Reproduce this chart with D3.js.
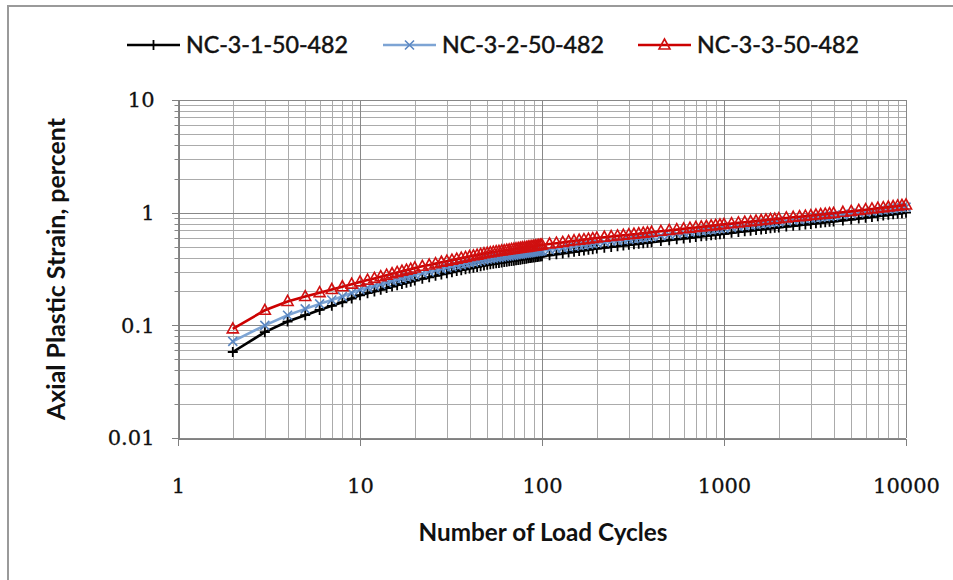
<!DOCTYPE html>
<html>
<head>
<meta charset="utf-8">
<script src="https://cdn.jsdelivr.net/npm/d3@7"></script>
<style>
  body { margin: 0; background: #fff; }
  svg { display: block; }
</style>
</head>
<body>
<div id="chart"></div>
<script>
// load cycles at which strain was recorded
const cycles = [
  2, 3, 4, 5, 6, 7, 8, 9, 10, 11, 12, 13, 14, 15, 16, 17, 18, 19, 20,
  22, 24, 26, 28, 30, 32, 34, 36, 38, 40, 42, 44, 46, 48, 50, 52, 54, 56, 58, 60,
  62, 64, 66, 68, 70, 72, 74, 76, 78, 80, 82, 84, 86, 88, 90, 92, 94, 96, 98, 100,
  110, 120, 130, 140, 150, 160, 170, 180, 190, 200,
  220, 240, 260, 280, 300, 320, 340, 360, 380, 400,
  450, 500, 550, 600, 650, 700, 750, 800, 850, 900, 950, 1000,
  1100, 1200, 1300, 1400, 1500, 1600, 1700, 1800, 1900, 2000,
  2200, 2400, 2600, 2800, 3000, 3200, 3400, 3600, 3800, 4000,
  4500, 5000, 5500, 6000, 6500, 7000, 7500, 8000, 8500, 9000, 9500, 10000
];

const strainNC1 = [
  0.058, 0.087, 0.108, 0.123, 0.137, 0.149, 0.160, 0.173, 0.185, 0.193, 0.200, 0.207, 0.214, 0.221, 0.227, 0.233, 0.239, 0.244, 0.250,
  0.259, 0.267, 0.275, 0.283, 0.290, 0.296, 0.303, 0.309, 0.314, 0.320, 0.325, 0.330, 0.335, 0.340, 0.345, 0.348, 0.352, 0.355, 0.358, 0.361,
  0.364, 0.367, 0.370, 0.373, 0.375, 0.378, 0.381, 0.383, 0.386, 0.388, 0.390, 0.393, 0.395, 0.397, 0.400, 0.402, 0.404, 0.406, 0.408, 0.410,
  0.419, 0.427, 0.435, 0.443, 0.450, 0.456, 0.462, 0.469, 0.474, 0.480,
  0.489, 0.497, 0.504, 0.511, 0.518, 0.524, 0.530, 0.536, 0.541, 0.547,
  0.559, 0.570, 0.580, 0.590, 0.599, 0.608, 0.616, 0.623, 0.630, 0.637, 0.644, 0.650,
  0.662, 0.673, 0.683, 0.692, 0.701, 0.710, 0.718, 0.726, 0.733, 0.740,
  0.753, 0.764, 0.775, 0.785, 0.795, 0.804, 0.813, 0.821, 0.829, 0.836,
  0.854, 0.870, 0.887, 0.902, 0.917, 0.931, 0.944, 0.956, 0.967, 0.979, 0.989, 1.000
];

const strainNC2 = [
  0.072, 0.100, 0.123, 0.140, 0.155, 0.168, 0.180, 0.194, 0.207, 0.216, 0.224, 0.232, 0.240, 0.248, 0.254, 0.261, 0.268, 0.273, 0.280,
  0.290, 0.299, 0.308, 0.317, 0.325, 0.332, 0.339, 0.346, 0.352, 0.358, 0.364, 0.370, 0.375, 0.381, 0.386, 0.390, 0.394, 0.398, 0.401, 0.404,
  0.408, 0.411, 0.414, 0.418, 0.420, 0.423, 0.427, 0.429, 0.432, 0.435, 0.437, 0.440, 0.442, 0.445, 0.448, 0.450, 0.452, 0.455, 0.457, 0.459,
  0.469, 0.478, 0.487, 0.496, 0.504, 0.511, 0.517, 0.525, 0.531, 0.538,
  0.548, 0.557, 0.564, 0.572, 0.580, 0.587, 0.594, 0.600, 0.606, 0.613,
  0.626, 0.638, 0.650, 0.661, 0.671, 0.681, 0.690, 0.698, 0.706, 0.713, 0.721, 0.728,
  0.741, 0.754, 0.765, 0.775, 0.785, 0.795, 0.804, 0.813, 0.821, 0.829,
  0.843, 0.856, 0.868, 0.879, 0.890, 0.900, 0.911, 0.920, 0.928, 0.936,
  0.956, 0.974, 0.993, 1.010, 1.027, 1.043, 1.057, 1.071, 1.083, 1.096, 1.108, 1.120
];

const strainNC3 = [
  0.093, 0.136, 0.163, 0.180, 0.195, 0.208, 0.220, 0.232, 0.243, 0.252, 0.261, 0.270, 0.279, 0.287, 0.295, 0.302, 0.309, 0.315, 0.323,
  0.334, 0.343, 0.353, 0.363, 0.371, 0.379, 0.387, 0.395, 0.401, 0.408, 0.414, 0.420, 0.426, 0.432, 0.438, 0.442, 0.447, 0.450, 0.454, 0.458,
  0.461, 0.465, 0.468, 0.472, 0.474, 0.478, 0.482, 0.484, 0.488, 0.490, 0.492, 0.496, 0.498, 0.501, 0.504, 0.507, 0.509, 0.512, 0.514, 0.517,
  0.527, 0.536, 0.545, 0.555, 0.563, 0.569, 0.576, 0.583, 0.589, 0.595,
  0.605, 0.614, 0.622, 0.630, 0.637, 0.644, 0.651, 0.658, 0.663, 0.670,
  0.683, 0.695, 0.707, 0.719, 0.729, 0.739, 0.748, 0.756, 0.764, 0.772, 0.780, 0.787,
  0.800, 0.812, 0.823, 0.832, 0.843, 0.852, 0.861, 0.870, 0.877, 0.884,
  0.898, 0.910, 0.921, 0.932, 0.943, 0.953, 0.963, 0.971, 0.980, 0.987,
  1.008, 1.027, 1.046, 1.063, 1.079, 1.095, 1.109, 1.122, 1.134, 1.147, 1.158, 1.170
];

const seriesNames = ['NC-3-1-50-482', 'NC-3-2-50-482', 'NC-3-3-50-482'];
const xTickValues = [1, 10, 100, 1000, 10000];
const yTickValues = [0.01, 0.1, 1, 10];
const yTickLabels = ['0.01', '0.1', '1', '10'];

const width = 953;
const height = 580;
const plot = {left: 178, right: 906, top: 100, bottom: 438};

const svg = d3.select('#chart')
  .append('svg')
  .attr('width', width)
  .attr('height', height);

// outer chart frame (only top and left edges are inside the picture)
svg.append('path')
  .attr('d', `M8,${height}V6H${width}`)
  .attr('fill', 'none')
  .attr('stroke', '#9a9a9a')
  .attr('stroke-width', 2);

const x = d3.scaleLog().domain([1, 10000]).range([plot.left, plot.right]);
const y = d3.scaleLog().domain([0.01, 10]).range([plot.bottom, plot.top]);

// minor + major grid
const xMinor = x.ticks().filter(v => !xTickValues.includes(v));
const yMinor = y.ticks().filter(v => !yTickValues.some(t => Math.abs(t - v) / t < 1e-6));

const grid = svg.append('g').attr('shape-rendering', 'crispEdges');
grid.selectAll('.xminor')
  .data(xMinor)
  .join('line')
  .attr('x1', d => Math.round(x(d)) + 0.5)
  .attr('x2', d => Math.round(x(d)) + 0.5)
  .attr('y1', plot.top)
  .attr('y2', plot.bottom)
  .attr('stroke', '#ababab');
grid.selectAll('.yminor')
  .data(yMinor)
  .join('line')
  .attr('x1', plot.left)
  .attr('x2', plot.right)
  .attr('y1', d => Math.round(y(d)) + 0.5)
  .attr('y2', d => Math.round(y(d)) + 0.5)
  .attr('stroke', '#ababab');
grid.selectAll('.xmajor')
  .data(xTickValues)
  .join('line')
  .attr('x1', d => Math.round(x(d)) + 0.5)
  .attr('x2', d => Math.round(x(d)) + 0.5)
  .attr('y1', plot.top)
  .attr('y2', plot.bottom)
  .attr('stroke', '#888');
grid.selectAll('.ymajor')
  .data(yTickValues)
  .join('line')
  .attr('x1', plot.left)
  .attr('x2', plot.right)
  .attr('y1', d => Math.round(y(d)) + 0.5)
  .attr('y2', d => Math.round(y(d)) + 0.5)
  .attr('stroke', '#888');

// axes
const xAxis = d3.axisBottom(x)
  .tickValues(xTickValues)
  .tickFormat(d3.format('d'))
  .tickSize(7)
  .tickPadding(41);
const gx = svg.append('g')
  .attr('transform', `translate(0,${plot.bottom + 0.5})`)
  .call(xAxis);

const yAxis = d3.axisLeft(y)
  .tickValues(yTickValues)
  .tickFormat((d, i) => yTickLabels[i])
  .tickSize(7)
  .tickPadding(17);
const gy = svg.append('g')
  .attr('transform', `translate(${plot.left + 0.5},0)`)
  .call(yAxis);

// minor ticks on the y axis
gy.selectAll('.minor')
  .data(yMinor)
  .join('line')
  .attr('x1', -4)
  .attr('x2', 0)
  .attr('y1', d => Math.round(y(d)) + 0.5)
  .attr('y2', d => Math.round(y(d)) + 0.5)
  .attr('stroke', '#868686');

[gx, gy].forEach(g => {
  g.select('.domain').attr('stroke', '#808080').attr('shape-rendering', 'crispEdges');
  g.selectAll('.tick line').attr('stroke', '#808080').attr('shape-rendering', 'crispEdges');
  g.selectAll('.tick text')
    .attr('fill', '#111')
    .attr('stroke', '#111')
    .attr('stroke-width', 0.3)
    .style('font-family', '"DejaVu Serif", serif')
    .style('font-size', '21px');
});
gx.selectAll('.tick text').attr('dy', '0.3em');

// shrink/grow a text so it spans the given width
function fitText(sel, target) {
  const node = sel.node();
  const size = parseFloat(sel.style('font-size'));
  const w = node.getComputedTextLength();
  sel.style('font-size', (size * target / w).toFixed(2) + 'px');
}

// axis titles
svg.append('text')
  .attr('x', 543)
  .attr('y', 541)
  .attr('text-anchor', 'middle')
  .style('font-family', 'Lato, sans-serif')
  .style('font-weight', 'bold')
  .style('font-size', '18px')
  .attr('fill', '#111')
  .text('Number of Load Cycles')
  .call(fitText, 249);

svg.append('text')
  .attr('transform', 'translate(65,269) rotate(-90)')
  .attr('text-anchor', 'middle')
  .style('font-family', 'Lato, sans-serif')
  .style('font-weight', 'bold')
  .style('font-size', '18px')
  .attr('fill', '#111')
  .text('Axial Plastic Strain, percent')
  .call(fitText, 302);

// series
const markerPlus = 'M-5,0H5M0,-5V5';
const markerX = 'M-4.5,-4.5L4.5,4.5M-4.5,4.5L4.5,-4.5';
const markerTri = 'M0,-6L5.5,4H-5.5Z';

const series = [
  {name: seriesNames[0], values: strainNC1, line: '#000000', mark: '#000000', shape: markerPlus, fill: 'none', mw: 1.8},
  {name: seriesNames[1], values: strainNC2, line: '#7da4d4', mark: '#5b87c2', shape: markerX, fill: 'none', mw: 1.6},
  {name: seriesNames[2], values: strainNC3, line: '#cc0000', mark: '#d01010', shape: markerTri, fill: 'none', mw: 1.6}
];

const line = d3.line()
  .x(d => x(d[0]))
  .y(d => y(d[1]));

series.forEach(s => {
  const pts = cycles.map((c, i) => [c, s.values[i]]);
  const g = svg.append('g');
  g.append('path')
    .datum(pts)
    .attr('d', line)
    .attr('fill', 'none')
    .attr('stroke', s.line)
    .attr('stroke-width', 2.6);
  g.selectAll('path.mk')
    .data(pts)
    .join('path')
    .attr('class', 'mk')
    .attr('transform', d => `translate(${x(d[0])},${y(d[1])})`)
    .attr('d', s.shape)
    .attr('fill', s.fill)
    .attr('stroke', s.mark)
    .attr('stroke-width', s.mw);
});

// legend
const legend = svg.append('g');
const legendStart = [127, 383, 638];
series.forEach((s, i) => {
  const lx = legendStart[i];
  const item = legend.append('g').attr('transform', `translate(${lx},45)`);
  item.append('line')
    .attr('x1', 0).attr('x2', 53)
    .attr('y1', 0).attr('y2', 0)
    .attr('stroke', s.line)
    .attr('stroke-width', 2.6);
  item.append('path')
    .attr('transform', 'translate(26.5,0)')
    .attr('d', s.shape)
    .attr('fill', s.fill)
    .attr('stroke', s.mark)
    .attr('stroke-width', s.mw);
  item.append('text')
    .attr('x', 59)
    .attr('y', 8)
    .style('font-family', 'Lato, sans-serif')
    .style('font-size', '21px')
    .attr('fill', '#111')
    .attr('stroke', '#111')
    .attr('stroke-width', 0.5)
    .text(s.name)
    .call(fitText, 162);
});
</script>
</body>
</html>
